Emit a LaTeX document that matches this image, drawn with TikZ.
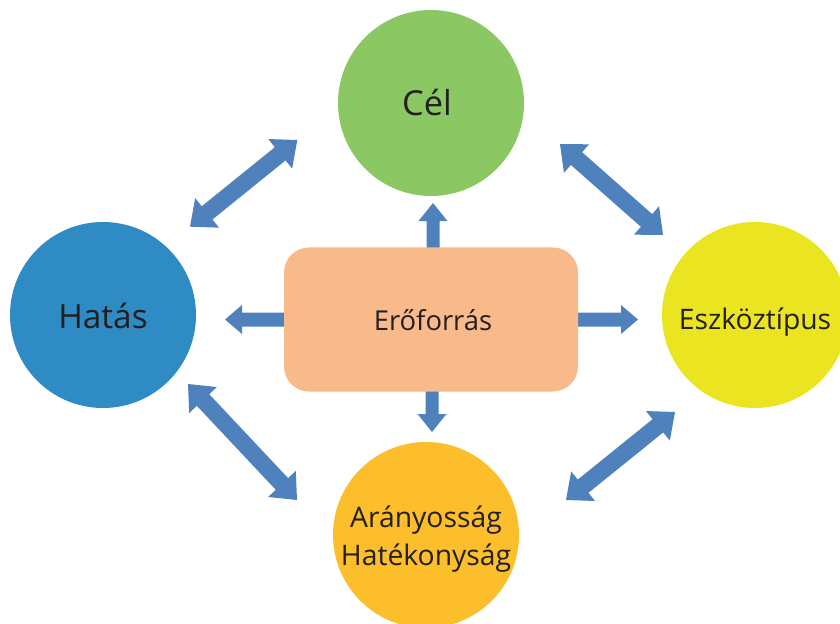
\documentclass[tikz,border=0pt]{standalone}
\usepackage{fontspec}
\setmainfont{Open Sans}
\usetikzlibrary{calc}
\definecolor{arrc}{HTML}{4F81BD}
\definecolor{celc}{HTML}{8BC863}
\definecolor{hatc}{HTML}{2E8BC4}
\definecolor{eszc}{HTML}{EAE520}
\definecolor{arac}{HTML}{FDBE2B}
\definecolor{resc}{HTML}{F8B98B}
\definecolor{txtc}{HTML}{231F20}
\newcommand\dblarr[5]{%
  \coordinate (dA) at ($(#1)!#5!(#2)$);
  \coordinate (dB) at ($(#2)!#5!(#1)$);
  \fill[arrc] (#1) -- ($(dA)!#4!90:(#2)$) -- ($(dA)!#3!90:(#2)$) -- ($(dB)!#3!-90:(#1)$) -- ($(dB)!#4!-90:(#1)$) -- (#2) -- ($(dB)!#4!90:(#1)$) -- ($(dB)!#3!90:(#1)$) -- ($(dA)!#3!-90:(#2)$) -- ($(dA)!#4!-90:(#2)$) -- cycle;}
\newcommand\onearr[5]{%
  \coordinate (dT) at ($(#2)!#5!(#1)$);
  \fill[arrc] ($(#1)!#3!90:(#2)$) -- ($(dT)!#3!-90:(#1)$) -- ($(dT)!#4!-90:(#1)$) -- (#2) -- ($(dT)!#4!90:(#1)$) -- ($(dT)!#3!90:(#1)$) -- ($(#1)!#3!-90:(#2)$) -- cycle;}
\tikzset{
  circ/.style={circle, draw=none, minimum size=186bp, inner sep=0pt},
  txt/.style={text=txtc, inner sep=0pt, anchor=base, align=center},
}
\begin{document}
\begin{tikzpicture}[x=1bp,y=-1bp]
\useasboundingbox (0,0) rectangle (840,624);
\clip (0,0) rectangle (840,624);
% circles
\node[circ, fill=celc] (cel) at (431,103) {};
\node[circ, fill=hatc] (hatas) at (103,315) {};
\node[circ, fill=eszc] (eszk) at (755,315) {};
\node[circ, fill=arac] (arany) at (426,535) {};
% straight arrows (under the box)
\coordinate (upb) at (433,255);  \coordinate (upt) at (433,203);
\coordinate (dnb) at (432,385);  \coordinate (dnt) at (432,432);
\coordinate (lfb) at (290,319.5); \coordinate (lft) at (225,319.5);
\coordinate (rtb) at (572,319.5); \coordinate (rtt) at (638,319.5);
\onearr{upb}{upt}{6.5bp}{14.5bp}{18bp}
\onearr{dnb}{dnt}{6.5bp}{14.5bp}{18bp}
\onearr{lfb}{lft}{7bp}{14.5bp}{17bp}
\onearr{rtb}{rtt}{7bp}{14.5bp}{17bp}
% central box
\node[draw=none, fill=resc, rounded corners=25bp, minimum width=294bp, minimum height=144bp, inner sep=0pt] (res) at (431,319.5) {};
% diagonal double arrows
\coordinate (nwA) at (190,226.7); \coordinate (nwB) at (297.3,140);
\coordinate (neA) at (560,144);   \coordinate (neB) at (663,235);
\coordinate (seA) at (566,500);   \coordinate (seB) at (675,412);
\coordinate (swA) at (188,384);   \coordinate (swB) at (297,500);
\dblarr{nwA}{nwB}{8.5bp}{19bp}{22bp}
\dblarr{neA}{neB}{8.5bp}{19bp}{22bp}
\dblarr{seA}{seB}{8.5bp}{19bp}{22bp}
\dblarr{swA}{swB}{8.5bp}{19bp}{22bp}
% texts
\node[txt, font=\fontsize{34.5}{40}\selectfont] (celt) at (427,116) {Cél};
\node[txt, font=\fontsize{33.5}{40}\selectfont] (hatt) at (103,328) {Hatás};
\node[txt, font=\fontsize{28.4}{30}\selectfont] (eszt) at (755,329) {Eszköztípus};
\node[txt, font=\fontsize{27.5}{30}\selectfont] (rest) at (433,330) {Erőforrás};
\node[txt, font=\fontsize{28.4}{30}\selectfont] (ara1) at (426,527) {Arányosság};
\node[txt, font=\fontsize{28.4}{30}\selectfont] (ara2) at (426,565) {Hatékonyság};
\end{tikzpicture}
\end{document}
